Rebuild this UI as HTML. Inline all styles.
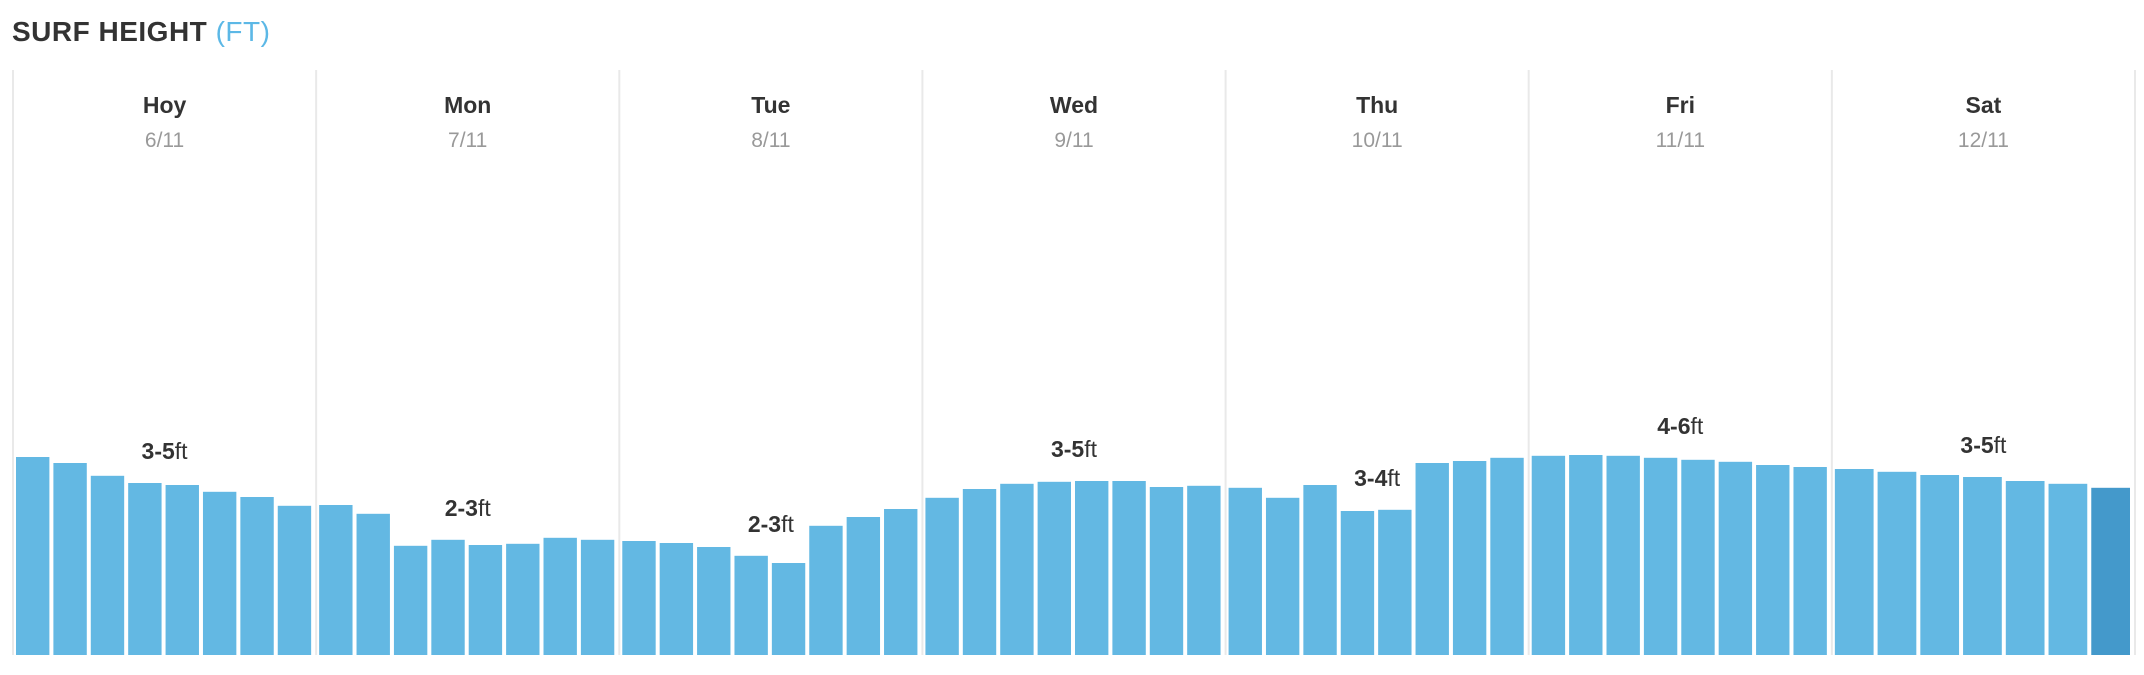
<!DOCTYPE html>
<html><head><meta charset="utf-8">
<style>
html,body{margin:0;padding:0;background:#fff;}
body{width:2144px;height:670px;overflow:hidden;font-family:"Liberation Sans",sans-serif;}
</style></head>
<body>
<svg id="chart" width="2144" height="670" xmlns="http://www.w3.org/2000/svg" font-family="Liberation Sans, sans-serif">
  <text x="12" y="41" font-size="28" font-weight="bold" fill="#333" letter-spacing="0.5">SURF HEIGHT <tspan font-weight="normal" fill="#5cb8e6">(FT)</tspan></text>
  <g id="grid"></g>
  <g id="bars"></g>
  <g id="labels"></g>
</svg>
<script>
const days = ["Hoy","Mon","Tue","Wed","Thu","Fri","Sat"];
const dates = ["6/11","7/11","8/11","9/11","10/11","11/11","12/11"];
const ranges = ["3-5","2-3","2-3","3-5","3-4","4-6","3-5"];
const hoy = [4.95,4.8,4.48,4.3,4.25,4.08,3.95,3.73];
const mon = [3.75,3.53,2.73,2.88,2.75,2.78,2.93,2.88];
const tue = [2.85,2.8,2.7,2.48,2.3,3.23,3.45,3.65];
const wed = [3.93,4.15,4.28,4.33,4.35,4.35,4.2,4.23];
const thu = [4.18,3.93,4.25,3.6,3.63,4.8,4.85,4.93];
const fri = [4.98,5,4.98,4.93,4.88,4.83,4.75,4.7];
const sat = [4.65,4.58,4.5,4.45,4.35,4.28,4.18];
const series = [hoy,mon,tue,wed,thu,fri,sat];

const NS = "http://www.w3.org/2000/svg";
const x0 = 13, x1 = 2135, baseY = 655, pxPerFt = 40;
const dayW = (x1 - x0) / days.length;
const xDay = i => x0 + i * dayW;
const yScale = v => baseY - v * pxPerFt;

const grid = document.getElementById('grid');
const barsG = document.getElementById('bars');
const labelsG = document.getElementById('labels');

function mk(tag, attrs, parent){
  const e = document.createElementNS(NS, tag);
  for (const k in attrs) e.setAttribute(k, attrs[k]);
  parent.appendChild(e);
  return e;
}

for (let i = 0; i <= days.length; i++) {
  const l = mk('line', {x1: xDay(i), x2: xDay(i), y1: 70, y2: baseY, stroke: '#e9e9e9', 'stroke-width': 2}, grid);
  
  
}

days.forEach((d, i) => {
  const cx = xDay(i) + dayW / 2;
  const t = mk('text', {x: cx, y: 113, 'text-anchor': 'middle', 'font-size': 23, 'font-weight': 'bold', fill: '#333'}, labelsG);
  t.textContent = d;
  
  
  const dt = mk('text', {x: cx, y: 147, 'text-anchor': 'middle', 'font-size': 21, fill: '#999'}, labelsG);
  dt.textContent = dates[i];
  
  

  const vals = series[i];
  const slot = (dayW - 4) / vals.length;
  vals.forEach((v, j) => {
    const isLast = (i === days.length - 1 && j === vals.length - 1);
    const r = mk('rect', {x: xDay(i) + 3 + j * slot, y: yScale(v), width: slot - 4, height: v * pxPerFt, fill: isLast ? '#4499cb' : '#63b8e3'}, barsG);
    
    
  });

  const mid = Math.max(vals[3], vals[4]);
  const lab = mk('text', {x: cx, y: yScale(mid) - 24, 'text-anchor': 'middle', 'font-size': 23, fill: '#333'}, labelsG);
  
  
  const b = mk('tspan', {'font-weight': 'bold'}, lab);
  b.textContent = ranges[i];
  const u = mk('tspan', {}, lab);
  u.textContent = 'ft';
});
</script>
</body></html>
